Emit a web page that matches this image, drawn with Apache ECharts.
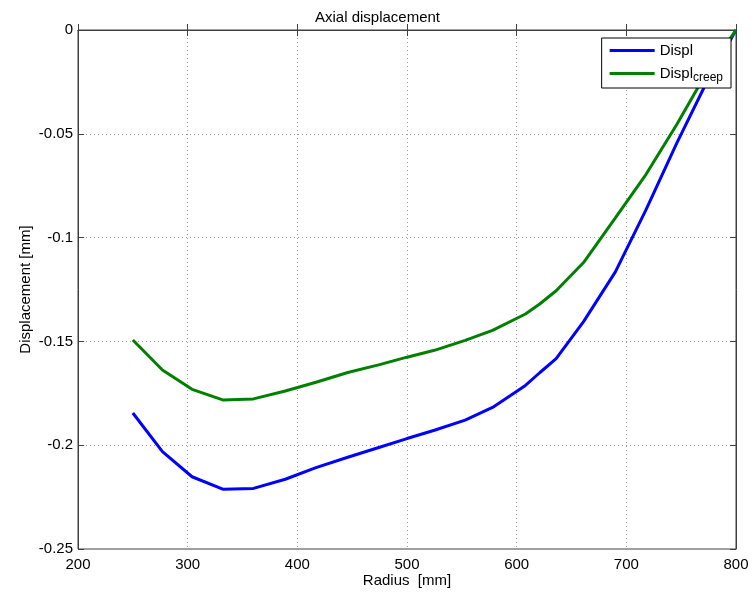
<!DOCTYPE html>
<html>
<head>
<meta charset="utf-8">
<script src="https://cdn.jsdelivr.net/npm/echarts@6/dist/echarts.min.js"></script>
<style>html,body{margin:0;padding:0;background:#fff}#c{width:755px;height:595px}</style>
</head>
<body>
<div id="c"></div>
<script>
const radius = [250, 277, 304, 332, 360, 389, 417, 446, 475, 500, 525, 553, 578, 608, 621, 636, 661, 690, 718, 746, 772, 800];
const displ = [-0.1845, -0.2031, -0.2152, -0.2212, -0.2208, -0.2164, -0.2108, -0.2058, -0.2010, -0.1968, -0.1928, -0.1879, -0.1818, -0.1712, -0.1651, -0.1583, -0.1405, -0.1165, -0.0865, -0.0545, -0.0265, 0];
const displCreep = [-0.1493, -0.1638, -0.1731, -0.1782, -0.1777, -0.1739, -0.1697, -0.1650, -0.1612, -0.1576, -0.1543, -0.1495, -0.1447, -0.1368, -0.1320, -0.1256, -0.1120, -0.0905, -0.0695, -0.0455, -0.0215, 0];
const seriesNames = ['Displ', 'Displ_creep'];
const titleText = 'Axial displacement';
const xName = 'Radius  [mm]';
const yName = 'Displacement [mm]';

const font = 'Liberation Sans, Arial, sans-serif';
const axisCol = '#404040';
const chart = echarts.init(document.getElementById('c'), null, {renderer: 'canvas'});
const pair = (xs, ys) => xs.map((x, i) => [x, ys[i]]);
const grid = {left: 78, right: 19, top: 30, bottom: 46, show: true, borderColor: axisCol, borderWidth: 1, backgroundColor: '#fff'};
const splitLine = {show: true, lineStyle: {color: '#9a9a9a', type: [1, 3], width: 1}};
chart.setOption({
  animation: false,
  backgroundColor: '#fff',
  title: {text: titleText, left: 'center', top: 5, textStyle: {fontFamily: font, fontSize: 15, fontWeight: 'normal', color: '#000'}},
  grid: grid,
  legend: {
    data: seriesNames.map(n => ({name: n, icon: 'rect'})), orient: 'vertical', right: 24, top: 38,
    backgroundColor: '#fff', borderColor: '#000', borderWidth: 1,
    padding: [5, 8, 4, 8], itemWidth: 45, itemHeight: 3, itemGap: 8,
    formatter: n => n === 'Displ_creep' ? '{m|Displ}{s|creep}' : '{m|' + n + '}',
    textStyle: {fontFamily: font, fontSize: 15, color: '#000',
      rich: {m: {fontFamily: font, fontSize: 15, color: '#000', lineHeight: 17}, s: {fontFamily: font, fontSize: 12, color: '#000', padding: [9, 0, 0, 0]}}}
  },
  xAxis: [{
    type: 'value', min: 200, max: 800, interval: 100, position: 'bottom',
    name: xName, nameLocation: 'middle', nameGap: 24, nameMoveOverlap: false,
    nameTextStyle: {fontFamily: font, fontSize: 15, color: '#000'},
    axisLine: {show: true, lineStyle: {color: axisCol}},
    axisTick: {show: true, inside: true, length: 6, lineStyle: {color: axisCol}},
    axisLabel: {fontFamily: font, fontSize: 15, color: '#000', margin: 8},
    splitLine: splitLine
  }, {
    type: 'value', min: 200, max: 800, interval: 100, position: 'top',
    axisLine: {show: true, lineStyle: {color: axisCol}},
    axisTick: {show: true, inside: true, length: 6, lineStyle: {color: axisCol}},
    axisLabel: {show: false}, splitLine: {show: false}
  }],
  yAxis: [{
    type: 'value', min: -0.25, max: 0, interval: 0.05, position: 'left',
    name: yName, nameLocation: 'middle', nameGap: 45, nameRotate: 90, nameMoveOverlap: false,
    nameTextStyle: {fontFamily: font, fontSize: 15, color: '#000'},
    axisLine: {show: true, lineStyle: {color: axisCol}},
    axisTick: {show: true, inside: true, length: 6, lineStyle: {color: axisCol}},
    axisLabel: {fontFamily: font, fontSize: 15, color: '#000', margin: 5},
    splitLine: splitLine
  }, {
    type: 'value', min: -0.25, max: 0, interval: 0.05, position: 'right',
    axisLine: {show: true, lineStyle: {color: axisCol}},
    axisTick: {show: true, inside: true, length: 6, lineStyle: {color: axisCol}},
    axisLabel: {show: false}, splitLine: {show: false}
  }],
  series: [{
    name: seriesNames[0], type: 'line', data: pair(radius, displ), symbol: 'none',
    lineStyle: {color: '#0000ff', width: 3}, itemStyle: {color: '#0000ff'}, clip: true
  }, {
    name: seriesNames[1], type: 'line', data: pair(radius, displCreep), symbol: 'none',
    lineStyle: {color: '#008000', width: 3}, itemStyle: {color: '#008000'}, clip: true
  }]
});
</script>
</body>
</html>
